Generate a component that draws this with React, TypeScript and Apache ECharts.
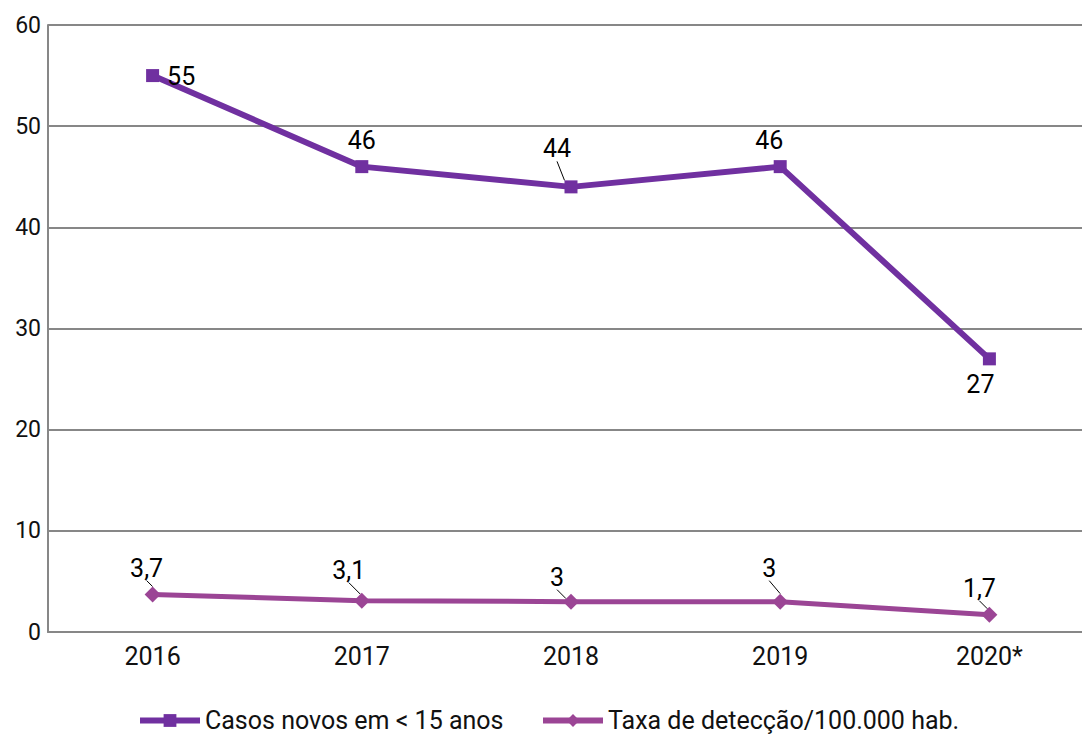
import React, { useEffect, useRef } from "react";
import * as echarts from "echarts";

const years = ["2016", "2017", "2018", "2019", "2020*"];
const casosNovos = [55, 46, 44, 46, 27];
const taxaDeteccao = [3.7, 3.1, 3, 3, 1.7];
const yTicks = { min: 0, max: 60, interval: 10 };

const seriesNames = ["Casos novos em < 15 anos", "Taxa de detecção/100.000 hab."];

// label placement for each point: [position, dx, dy, leader line]
const casosLabelPos: [string, number, number, boolean][] = [
  ["right", 3, 1, false],
  ["top", 0, -2, false],
  ["top", -14, -14, true],
  ["top", -11, -2, false],
  ["bottom", -9, 2, false],
];
const taxaLabelPos: [string, number, number, boolean][] = [
  ["top", -6, -1, true],
  ["top", -13, -5, true],
  ["top", -14, 1, true],
  ["top", -11, -8, true],
  ["top", -10, -1, true],
];

const fmt = (v: number) => String(v).replace(".", ",");

// the plot runs a little past the right edge of the visible frame
const FRAME_W = 1082;
const CHART_W = 1100;

export default function App() {
  const ref = useRef<HTMLDivElement>(null);

  useEffect(() => {
    if (!ref.current) return;
    const chart = echarts.init(ref.current, null, { renderer: "svg" });
    const font = "Roboto, 'Noto Sans', sans-serif";

    const mkData = (vals: number[], pos: [string, number, number, boolean][]) =>
      vals.map((v, i) => ({
        value: v,
        label: { position: pos[i][0] },
        labelLine: { show: pos[i][3] },
      }));

    const placeLabels = (pos: [string, number, number, boolean][]) => (p: any) => {
      const [, dx, dy, leader] = pos[p.dataIndex];
      const out: any = { dx, dy };
      if (leader) {
        const r = p.rect;
        const l = p.labelRect;
        const px = r.x + r.width / 2;
        const py = r.y + r.height / 2;
        const right = l.x + l.width + dx;
        const bottom = l.y + l.height + dy;
        out.labelLinePoints = [
          [Math.min(right + 1, px + 6), bottom + 4],
          [px + 6, py - 1],
        ];
      }
      return out;
    };

    const legendBase = {
      top: 703,
      itemWidth: 60,
      itemHeight: 16,
      itemGap: 0,
      textStyle: { fontSize: 25, color: "#111", fontFamily: font },
      lineStyle: { width: 6 },
    };

    chart.setOption({
      animation: false,
      textStyle: { fontFamily: font },
      grid: { left: 48, top: 25, width: 1046, height: 607 },
      legend: [
        { ...legendBase, left: 132, data: [seriesNames[0]] },
        { ...legendBase, left: 535, data: [seriesNames[1]] },
      ],
      xAxis: {
        type: "category",
        data: years,
        boundaryGap: true,
        axisLine: { lineStyle: { color: "#878787", width: 2 } },
        axisTick: { show: false },
        axisLabel: { fontSize: 25, color: "#111", margin: 12, fontFamily: font },
      },
      yAxis: {
        type: "value",
        min: yTicks.min,
        max: yTicks.max,
        interval: yTicks.interval,
        axisLine: { show: true, lineStyle: { color: "#878787", width: 2 } },
        axisTick: { show: false },
        axisLabel: { fontSize: 23, color: "#111", margin: 7, fontFamily: font },
        splitLine: { lineStyle: { color: "#878787", width: 2 } },
      },
      series: [
        {
          name: seriesNames[0],
          type: "line",
          data: mkData(casosNovos, casosLabelPos),
          symbol: "rect",
          symbolSize: 13,
          lineStyle: { color: "#7030A0", width: 6 },
          itemStyle: { color: "#7030A0" },
          label: {
            show: true,
            fontSize: 25,
            color: "#000",
            fontFamily: font,
            formatter: (p: any) => fmt(p.value),
          },
          labelLine: { show: true, lineStyle: { color: "#000", width: 1 } },
          labelLayout: placeLabels(casosLabelPos),
        },
        {
          name: seriesNames[1],
          type: "line",
          data: mkData(taxaDeteccao, taxaLabelPos),
          symbol: "diamond",
          symbolSize: 16,
          lineStyle: { color: "#9B4595", width: 5 },
          itemStyle: { color: "#9B4595" },
          label: {
            show: true,
            fontSize: 25,
            color: "#000",
            fontFamily: font,
            formatter: (p: any) => fmt(p.value),
          },
          labelLine: { show: true, lineStyle: { color: "#000", width: 1 } },
          labelLayout: placeLabels(taxaLabelPos),
        },
      ],
    });

    return () => chart.dispose();
  }, []);

  return (
    <div style={{ position: "absolute", left: 0, top: 0, width: FRAME_W, height: 735, overflow: "hidden" }}>
      <div ref={ref} style={{ width: CHART_W, height: 735 }} />
    </div>
  );
}
